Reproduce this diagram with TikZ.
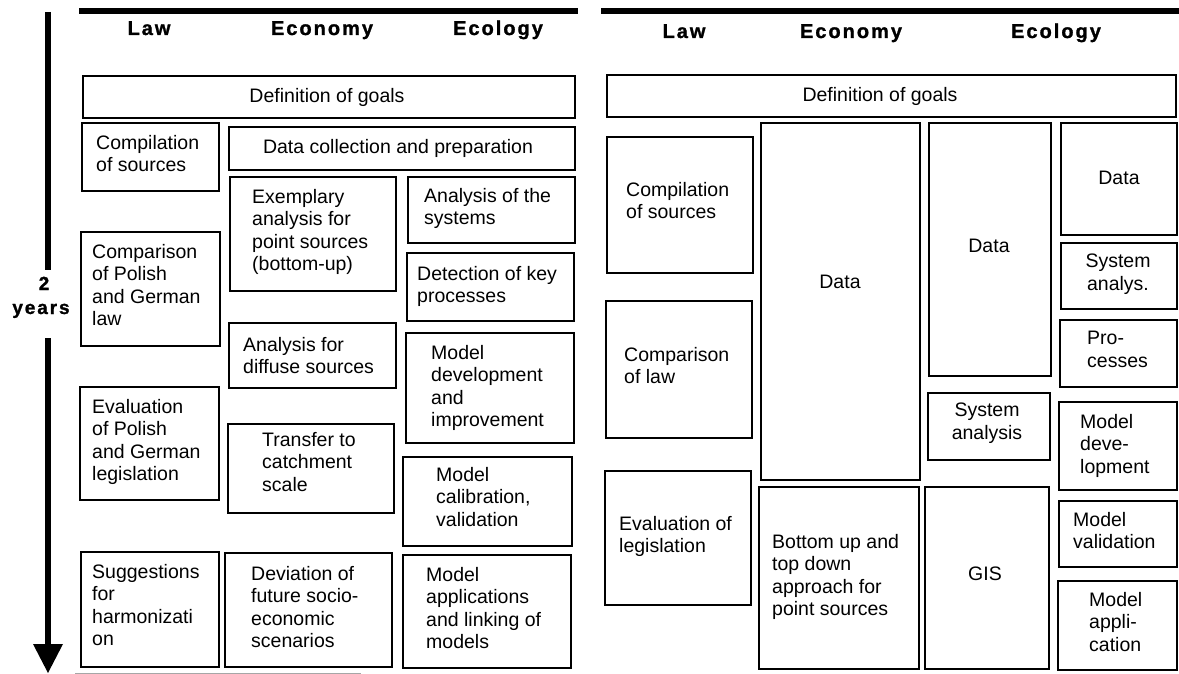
\documentclass[tikz,border=0pt]{standalone}
\usepackage{fontspec}
\setmainfont{Liberation Sans}
\newfontfamily\bodyfont{Liberation Sans}
\newfontfamily\headfont[LetterSpace=10,FakeBold=1.2]{Liberation Sans Bold}
\tikzset{
  box/.style={draw, line width=2.8pt, inner sep=0pt, outer sep=0pt},
  txt/.style={font=\bodyfont\fontsize{19.5}{22.5}\selectfont, inner sep=0pt, align=left, anchor=north west},
  ctxt/.style={font=\bodyfont\fontsize{19.5}{22.5}\selectfont, inner sep=0pt, align=center},
  hdr/.style={font=\headfont\fontsize{20}{22}\selectfont, inner sep=0pt, anchor=base},
  yrs/.style={font=\headfont\fontsize{19}{22}\selectfont, inner sep=0pt, anchor=base},
  bar/.style={line width=6pt},
}
\newcommand\bx[5]{\node[box, anchor=north west, minimum width={(#4-#2)*1pt}, minimum height={(#5-#3)*1pt}] (#1) at (#2,#3) {};}
\newcommand\tx[4]{\node[txt] (#1) at (#2,#3) {#4};}
\newcommand\ct[4]{\node[ctxt] (#1) at (#2,#3) {#4};}
\begin{document}
\begin{tikzpicture}[x=1pt,y=-1pt]
\useasboundingbox (0,0) rectangle (1179,674);
% top bars
\coordinate (lb1) at (79,11); \coordinate (lb2) at (578,11);
\coordinate (rb1) at (601,11); \coordinate (rb2) at (1179,11);
\draw[bar] (lb1) -- (lb2);
\draw[bar] (rb1) -- (rb2);
% faint scan line
\coordinate (gl1) at (75,673); \coordinate (gl2) at (361,673);
\draw[black!35, line width=1pt] (gl1) -- (gl2);
% headers
\node[hdr] (hL1) at (149,35) {Law};
\node[hdr] (hL2) at (322,35) {Economy};
\node[hdr] (hL3) at (498,35) {Ecology};
\node[hdr] (hR1) at (684,38) {Law};
\node[hdr] (hR2) at (851,38) {Economy};
\node[hdr] (hR3) at (1056,38) {Ecology};
% time arrow
\coordinate (a1) at (48,12); \coordinate (a2) at (48,270);
\coordinate (a3) at (48,338); \coordinate (a4) at (48,646);
\draw[line width=6.5pt] (a1) -- (a2);
\draw[line width=6.5pt] (a3) -- (a4);
\coordinate (ah1) at (33,644); \coordinate (ah2) at (63,644); \coordinate (ah3) at (48,673);
\fill (ah1) -- (ah2) -- (ah3) -- cycle;
\node[yrs] (two) at (44,290) {2};
\node[yrs] (years) at (41,314) {years};
% ---------------- left panel ----------------
\bx{L-goals}{83}{76}{575}{118}
\ct{L-goals-t}{327}{97}{Definition of goals}
\bx{L-comp}{82}{123}{219}{191}
\tx{L-comp-t}{96}{135}{Compilation\\of sources}
\bx{L-data}{229}{127}{575}{170}
\ct{L-data-t}{398}{148.5}{Data collection and preparation}
\bx{L-exem}{230}{177}{396}{291}
\tx{L-exem-t}{252}{189}{Exemplary\\analysis for\\point sources\\(bottom-up)}
\bx{L-sys}{408}{177}{575}{243}
\tx{L-sys-t}{424}{188}{Analysis of the\\systems}
\bx{L-cmp}{81}{232}{220}{346}
\tx{L-cmp-t}{92}{244}{Comparison\\of Polish\\and German\\law}
\bx{L-det}{407}{253}{574}{321}
\tx{L-det-t}{417}{266}{Detection of key\\processes}
\bx{L-dif}{229}{323}{396}{388}
\tx{L-dif-t}{243}{337}{Analysis for\\diffuse sources}
\bx{L-mdev}{406}{333}{574}{443}
\tx{L-mdev-t}{431}{345}{Model\\development\\and\\improvement}
\bx{L-eval}{80}{387}{219}{500}
\tx{L-eval-t}{92}{399}{Evaluation\\of Polish\\and German\\legislation}
\bx{L-tra}{228}{424}{394}{513}
\tx{L-tra-t}{262}{432}{Transfer to\\catchment\\scale}
\bx{L-cal}{403}{457}{572}{546}
\tx{L-cal-t}{436}{467}{Model\\calibration,\\validation}
\bx{L-sug}{81}{552}{219}{667}
\tx{L-sug-t}{92}{564}{Suggestions\\for\\harmonizati\\on}
\bx{L-dev}{225}{553}{392}{667}
\tx{L-dev-t}{251}{566}{Deviation of\\future socio-\\economic\\scenarios}
\bx{L-app}{403}{555}{571}{668}
\tx{L-app-t}{426}{567}{Model\\applications\\and linking of\\models}
% ---------------- right panel ----------------
\bx{R-goals}{607}{75}{1176}{117}
\ct{R-goals-t}{880}{96}{Definition of goals}
\bx{R-comp}{607}{137}{753}{273}
\tx{R-comp-t}{626}{182}{Compilation\\of sources}
\bx{R-data1}{761}{123}{920}{480}
\ct{R-data1-t}{840}{282}{Data}
\bx{R-data2}{929}{123}{1051}{376}
\ct{R-data2-t}{989}{246}{Data}
\bx{R-data3}{1061}{123}{1177}{235}
\ct{R-data3-t}{1119}{178}{Data}
\bx{R-sysa}{1061}{243}{1177}{309}
\ct{R-sysa-t}{1118}{274}{System\\analys.}
\bx{R-proc}{1060}{320}{1177}{387}
\tx{R-proc-t}{1087}{331}{Pro-\\cesses}
\bx{R-cmpl}{606}{301}{752}{438}
\tx{R-cmpl-t}{624}{347}{Comparison\\of law}
\bx{R-sysan}{928}{393}{1050}{460}
\ct{R-sysan-t}{987}{423}{System\\analysis}
\bx{R-mdev}{1059}{402}{1177}{490}
\tx{R-mdev-t}{1080}{414}{Model\\deve-\\lopment}
\bx{R-eval}{605}{471}{751}{605}
\tx{R-eval-t}{619}{516}{Evaluation of\\legislation}
\bx{R-bot}{759}{487}{919}{669}
\tx{R-bot-t}{772}{534}{Bottom up and\\top down\\approach for\\point sources}
\bx{R-gis}{925}{487}{1049}{669}
\ct{R-gis-t}{985}{574}{GIS}
\bx{R-mval}{1059}{501}{1177}{567}
\tx{R-mval-t}{1073}{512}{Model\\validation}
\bx{R-mapp}{1058}{581}{1177}{670}
\tx{R-mapp-t}{1089}{592}{Model\\appli-\\cation}
\end{tikzpicture}
\end{document}
